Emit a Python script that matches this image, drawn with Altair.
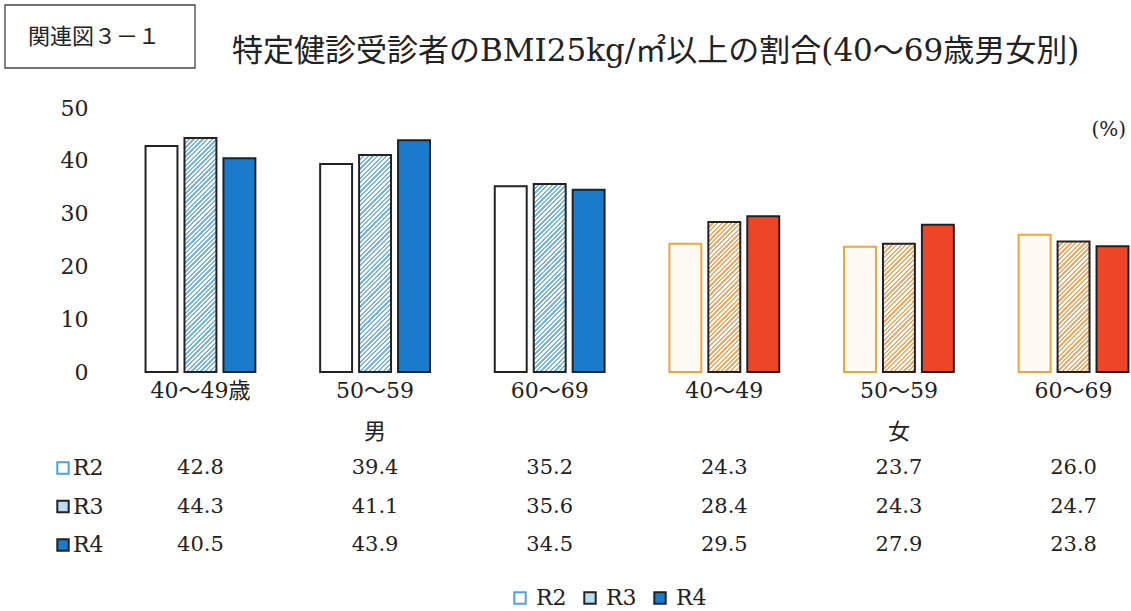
import math
import altair as alt
import pandas as pd

# ---- data ----
cats = ["m40", "m50", "m60", "f40", "f50", "f60"]
cat_labels = ["40～49歳", "50～59", "60～69", "40～49", "50～59", "60～69"]
cat_sex = ["m", "m", "m", "f", "f", "f"]
years = ["R2", "R3", "R4"]
r2 = [42.8, 39.4, 35.2, 24.3, 23.7, 26.0]
r3 = [44.3, 41.1, 35.6, 28.4, 24.3, 24.7]
r4 = [40.5, 43.9, 34.5, 29.5, 27.9, 23.8]
sex_labels = ["男", "女"]
sex_anchor = ["m50", "f50"]

title_box = "関連図３－１"
title_text = "特定健診受診者のBMI25kg/㎡以上の割合(40～69歳男女別)"
unit_text = "(%)"

# ---- layout / style ----
PLOT_W, PLOT_H = 988, 264
PAD_L, PAD_T = 143, 108
SERIF = "DejaVu Serif, Noto Sans CJK JP"
CJK = "Noto Sans CJK JP"
INK = "#222222"

rows = []
for vals, yr in zip([r2, r3, r4], years):
    for c, s, v in zip(cats, cat_sex, vals):
        rows.append({"cat": c, "sex": s, "year": yr, "value": v, "series": f"{s}-{yr}"})
df = pd.DataFrame(rows)

series_dom = ["m-R2", "m-R3", "m-R4", "f-R2", "f-R3", "f-R4"]
series_fill = ["#ffffff", "#b9dbf2", "#1a7bcc", "#fffaf4", "#f8d3b0", "#ef4527"]
series_stroke = [INK, INK, INK, "#f2a43c", INK, INK]
stripe_color = {"m": "#7ab7e5", "f": "#f2aa68"}

BAR_W = 32.0
PX_PER_UNIT = PLOT_H / 50.0


def hatch(value, color, period=4.6, duty=0.5):
    """Diagonal '/' stripes for one bar, built as a hard-stop linear gradient."""
    h = value * PX_PER_UNIT
    k = BAR_W / h
    s = (k + 1) / (k * k + 1)
    n = (BAR_W + h) / period
    stops = []
    for i in range(int(math.ceil(n))):
        a = min(i / n, 1)
        b = min((i + duty) / n, 1)
        c = min((i + 1) / n, 1)
        stops += [
            {"offset": a, "color": color},
            {"offset": b, "color": color},
            {"offset": b, "color": "#ffffff"},
            {"offset": c, "color": "#ffffff"},
        ]
    return {"gradient": "linear", "x1": 0, "y1": 0, "x2": s * k, "y2": s, "stops": stops}


hatch_conds = []
for c, s, v in zip(cats, cat_sex, r3):
    hatch_conds.append({
        "test": f"datum.cat === '{c}' && datum.year === 'R3'",
        "value": hatch(v, stripe_color[s]),
    })

label_map = "{" + ",".join(f"'{c}':'{l}'" for c, l in zip(cats, cat_labels)) + "}"

x_scale = alt.Scale(domain=cats, paddingInner=0.342, paddingOuter=0)
x_enc = alt.X(
    "cat:N",
    scale=x_scale,
    title=None,
    axis=alt.Axis(
        domain=False, ticks=False, labelAngle=0, labelPadding=8,
        labelFont=SERIF, labelFontSize=22, labelColor=INK,
        labelExpr=f"{label_map}[datum.value]",
    ),
)
row_scale = alt.Scale(type="point", domain=years, range=[360, 437], padding=0)

bars = alt.Chart(df).mark_bar(strokeWidth=2).encode(
    x=x_enc,
    xOffset=alt.XOffset("year:N", scale=alt.Scale(domain=years, paddingInner=0.18, paddingOuter=0.065)),
    y=alt.Y(
        "value:Q",
        scale=alt.Scale(domain=[0, 50]),
        title=None,
        axis=alt.Axis(
            values=[0, 10, 20, 30, 40, 50], grid=False, domain=False, ticks=False,
            tickSize=0, labelPadding=55, labelFont=SERIF, labelFontSize=22, labelColor=INK,
        ),
    ),
    fill=alt.Fill("series:N", scale=alt.Scale(domain=series_dom, range=series_fill),
                  legend=None, condition=hatch_conds),
    stroke=alt.Stroke("series:N", scale=alt.Scale(domain=series_dom, range=series_stroke), legend=None),
)

sex_df = pd.DataFrame({"cat": sex_anchor, "label": sex_labels})
sex_text = alt.Chart(sex_df).mark_text(font=CJK, fontSize=22, color=INK).encode(
    x=alt.X("cat:N", scale=x_scale),
    y=alt.value(324),
    text="label:N",
)

table_vals = alt.Chart(df).mark_text(font=SERIF, fontSize=21, color=INK).encode(
    x=alt.X("cat:N", scale=x_scale),
    y=alt.Y("year:N", scale=row_scale, axis=None),
    text=alt.Text("value:Q", format=".1f"),
)

year_df = pd.DataFrame({"year": years})
sw_fill = alt.Scale(domain=years, range=["#ffffff", "#b9dbf2", "#1a7bcc"])
sw_stroke = alt.Scale(domain=years, range=["#4aa3df", INK, INK])
sw_legend = alt.Legend(
    orient="none", legendX=366, legendY=479, direction="horizontal", title=None,
    symbolType="square", symbolSize=130, symbolStrokeWidth=2,
    labelFont=SERIF, labelFontSize=22, labelColor=INK, columnPadding=12, labelOffset=5,
)
swatches = alt.Chart(year_df).mark_square(size=130, strokeWidth=2, opacity=1).encode(
    x=alt.value(-80),
    y=alt.Y("year:N", scale=row_scale, axis=None),
    fill=alt.Fill("year:N", scale=sw_fill, legend=sw_legend),
    stroke=alt.Stroke("year:N", scale=sw_stroke, legend=sw_legend),
)
row_names = alt.Chart(year_df).mark_text(align="left", font=SERIF, fontSize=22, color=INK).encode(
    x=alt.value(-70),
    y=alt.Y("year:N", scale=row_scale, axis=None),
    text="year:N",
)

dummy = pd.DataFrame({"k": [0]})
box = alt.Chart(dummy).mark_rect(fill="#ffffff", stroke="#444444", strokeWidth=1.3).encode(
    x=alt.value(-138), x2=alt.value(52), y=alt.value(-103), y2=alt.value(-40),
)
box_text = alt.Chart(dummy).mark_text(align="left", baseline="middle", font=CJK, fontSize=22, color=INK).encode(
    x=alt.value(-115), y=alt.value(-71), text=alt.value(title_box),
)
title = alt.Chart(dummy).mark_text(align="left", baseline="middle", font=SERIF, fontSize=31, color=INK).encode(
    x=alt.value(89), y=alt.value(-56), text=alt.value(title_text),
)
unit = alt.Chart(dummy).mark_text(align="right", baseline="middle", font=SERIF, fontSize=20, color=INK).encode(
    x=alt.value(983), y=alt.value(22), text=alt.value(unit_text),
)

chart = alt.layer(
    bars, sex_text, table_vals, swatches, row_names, box, box_text, title, unit
).resolve_scale(
    y="independent", fill="independent", stroke="independent"
).properties(
    width=PLOT_W, height=PLOT_H,
    autosize=alt.AutoSizeParams(type="none"),
    padding={"left": PAD_L, "top": PAD_T, "right": 0, "bottom": 611 - PAD_T - PLOT_H},
    background="#ffffff",
).configure_view(stroke=None)

chart.save("out.html", embed_options={"renderer": "svg", "actions": False})
